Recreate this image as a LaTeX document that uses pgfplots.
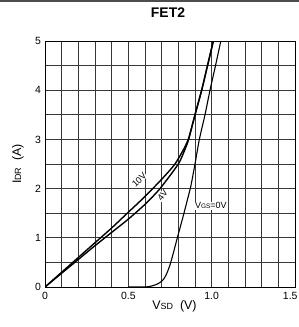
\documentclass[border=0pt]{standalone}
\usepackage{fontspec}
\setmainfont{Liberation Sans}
\usepackage{pgfplots}
\pgfplotsset{compat=1.18}
\begin{document}
\begin{tikzpicture}[x=1bp,y=1bp]
\useasboundingbox (0,0) rectangle (299,327);
\draw[line width=1.6bp, black!70] (0,326.2) -- (299,326.2);
\begin{axis}[
  at={(45bp,40bp)}, anchor=south west,
  scale only axis, width=250bp, height=246bp,
  xmin=0, xmax=1.5, ymin=0, ymax=5,
  xtick={0,0.5,1,1.5}, xticklabels={0,0.5,1.0,\hbox to 0pt{\hss 1.5\kern-2.5bp}},
  ytick={0,1,2,3,4,5},
  minor xtick={0.1,0.2,0.3,0.4,0.6,0.7,0.8,0.9,1.1,1.2,1.3,1.4},
  minor ytick={0.5,1.5,2.5,3.5,4.5},
  grid=both,
  major grid style={line width=0.9bp, black!78},
  minor grid style={line width=0.9bp, black!78},
  axis line style={line width=0.9bp, black},
  major tick length=0pt, minor tick length=0pt,
  tick label style={font=\fontsize{10.5}{11}\selectfont},
  /pgf/number format/assume math mode=true,
  xticklabel style={yshift=-2bp},
  yticklabel style={xshift=-0.5bp},
  title={\bfseries FET2},
  title style={font=\fontsize{14}{15}\selectfont, at={(axis description cs:0.492,1.089)}, anchor=center},
  xlabel={V{\fontsize{9}{10}\selectfont SD}\ \ (V)},
  ylabel={I{\fontsize{9}{10}\selectfont DR}\ \ (A)},
  every axis x label/.style={at={(axis description cs:0.518,-0.079)}, anchor=center, font=\fontsize{12.5}{13}\selectfont},
  every axis y label/.style={at={(axis description cs:-0.108,0.5)}, rotate=90, anchor=center, font=\fontsize{12.5}{13}\selectfont},
  clip=true,
]
% VGS = 10V
\addplot[line width=1.4bp, black, smooth, tension=0.4] coordinates {
 (0,0) (0.1,0.3) (0.2,0.6) (0.3,0.9) (0.4,1.2) (0.5,1.52) (0.6,1.84) (0.7,2.19)
 (0.78,2.5) (0.84,2.85) (0.86,3.0) (0.90,3.5) (0.94,4.0) (0.975,4.5) (1.01,5.0) (1.02,5.15)};
% VGS = 4V
\addplot[line width=1.4bp, black, smooth, tension=0.4] coordinates {
 (0,0) (0.1,0.28) (0.2,0.56) (0.3,0.84) (0.4,1.11) (0.5,1.38) (0.6,1.68) (0.69,2.0)
 (0.80,2.5) (0.84,2.8) (0.862,3.0) (0.90,3.5) (0.94,4.0) (0.975,4.5) (1.01,5.0) (1.02,5.15)};
% VGS = 0V
\addplot[line width=1.1bp, black, smooth, tension=0.4] coordinates {
 (0.5,0) (0.6,0.0) (0.64,0.02) (0.68,0.07) (0.71,0.15) (0.73,0.27) (0.75,0.45)
 (0.77,0.69) (0.79,0.95) (0.81,1.2) (0.83,1.45) (0.855,1.78) (0.875,2.05)
 (0.90,2.5) (0.926,3.0) (0.96,3.5) (0.99,4.0) (1.023,4.5) (1.055,5.0) (1.065,5.15)};
\node[rotate=44, fill=white, inner sep=0.3bp, font=\fontsize{9}{9}\selectfont] at (axis cs:0.565,2.18) {10V};
\node[rotate=52, fill=white, inner sep=0.3bp, font=\fontsize{9}{9}\selectfont] at (axis cs:0.705,1.86) {4V};
\node[fill=white, inner sep=1bp, font=\fontsize{9}{10}\selectfont] at (axis cs:0.995,1.65) {V{\fontsize{6.5}{7}\selectfont GS}=0V};
\end{axis}
\end{tikzpicture}
\end{document}
